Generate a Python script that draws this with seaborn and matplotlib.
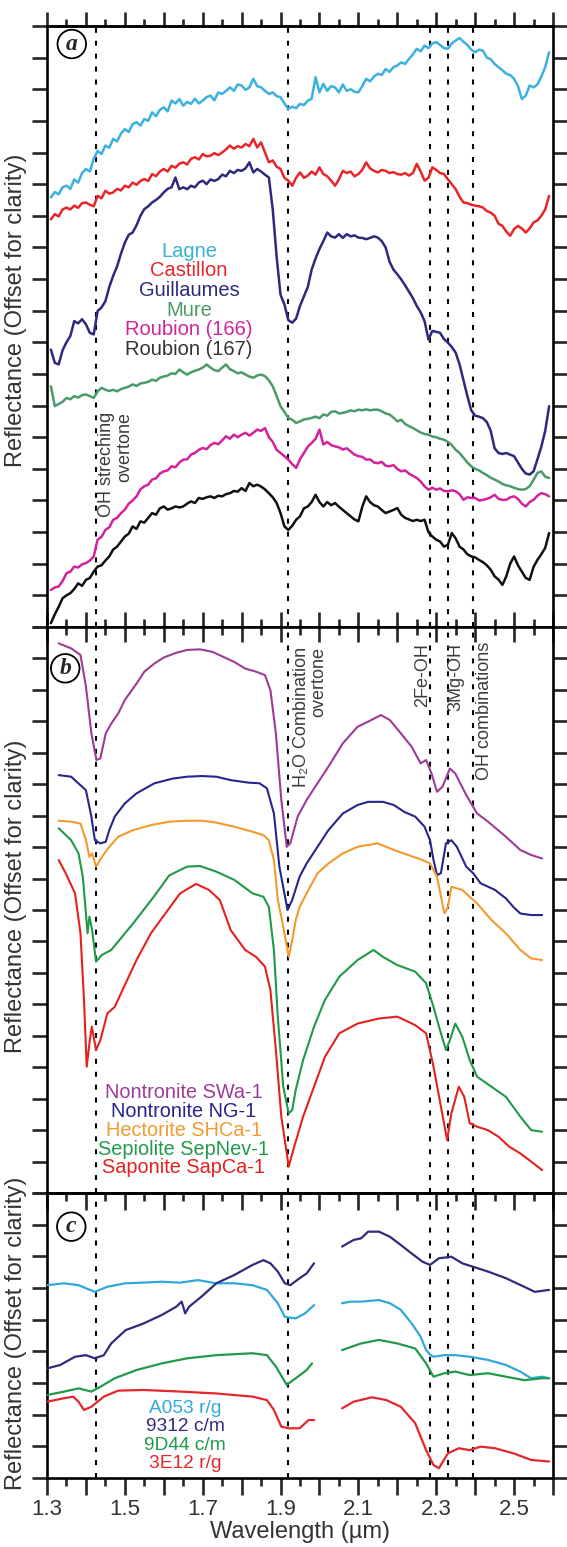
import numpy as np
import pandas as pd
import matplotlib
matplotlib.use("Agg")
import matplotlib.pyplot as plt
from matplotlib.ticker import FixedLocator, FixedFormatter
import seaborn as sns

# ---------------- panel a: field spectra (0.01 um grid, 1.31 - 2.59 um) ----------------
wl_a = np.round(np.arange(1.31, 2.595, 0.01), 2)

lagne = [
    13.58, 13.75, 13.68, 13.90, 13.95, 13.85, 14.15, 14.05, 14.35, 14.48,
    14.40, 14.80, 15.05, 14.95, 15.22, 15.15, 15.43, 15.35, 15.60, 15.74,
    15.65, 15.90, 15.96, 15.85, 16.06, 16.00, 16.27, 16.15, 16.35, 16.43,
    16.30, 16.64, 16.55, 16.69, 16.48, 16.60, 16.54, 16.70, 16.55, 16.64,
    16.75, 16.80, 16.65, 16.90, 16.85, 16.95, 17.06, 16.95, 17.15, 17.12,
    16.98, 17.06, 17.33, 17.10, 17.06, 16.95, 16.85, 16.90, 16.78, 16.75,
    16.55, 16.38, 16.45, 16.40, 16.54, 16.50, 16.64, 16.70, 17.38, 16.90,
    17.17, 16.95, 17.10, 17.06, 16.90, 17.15, 16.95, 17.00, 16.92, 16.90,
    17.10, 17.33, 17.25, 17.40, 17.49, 17.45, 17.64, 17.55, 17.70, 17.75,
    17.85, 17.80, 17.96, 18.10, 18.28, 18.20, 18.38, 18.30, 18.45, 18.49,
    18.40, 18.30, 18.28, 18.45, 18.54, 18.62, 18.50, 18.40, 18.25, 18.17,
    18.25, 18.22, 18.00, 17.95, 17.80, 17.70, 17.60, 17.49, 17.45, 17.33,
    17.10, 16.69, 16.80, 17.12, 17.06, 17.15, 17.40, 17.70, 18.17]

castillon = [
    12.89, 13.05, 12.98, 13.20, 13.26, 13.20, 13.32, 13.25, 13.40, 13.42,
    13.35, 13.30, 13.63, 13.55, 13.79, 13.70, 13.74, 13.85, 13.80, 13.95,
    13.90, 14.05, 13.98, 14.10, 14.16, 14.10, 14.32, 14.25, 14.40, 14.48,
    14.40, 14.58, 14.52, 14.65, 14.69, 14.62, 14.80, 14.85, 14.78, 14.95,
    14.88, 14.90, 14.98, 14.92, 15.00, 15.10, 15.22, 15.12, 15.20, 15.16,
    15.27, 15.20, 15.43, 15.16, 15.32, 15.00, 14.69, 14.75, 14.55, 14.48,
    14.20, 14.11, 13.95, 14.20, 14.37, 14.20, 14.27, 14.40, 14.30, 14.53,
    14.32, 14.25, 14.11, 13.95, 14.15, 14.42, 14.35, 14.40, 14.25, 14.32,
    14.45, 14.69, 14.50, 14.42, 14.37, 14.45, 14.42, 14.35, 14.38, 14.32,
    14.30, 14.35, 14.27, 14.35, 14.64, 14.40, 14.11, 14.20, 14.53, 14.45,
    14.35, 14.32, 14.15, 14.00, 13.84, 13.60, 13.42, 13.40, 13.35, 13.32,
    13.30, 13.26, 13.15, 13.10, 13.00, 12.75, 12.68, 12.50, 12.37, 12.58,
    12.68, 12.60, 12.47, 12.60, 12.79, 12.85, 13.00, 13.20, 13.63]

guillaumes = [
    8.77, 8.35, 8.30, 8.75, 9.00, 9.20, 9.67, 9.60, 9.73, 9.57,
    9.30, 9.25, 9.99, 10.10, 10.30, 10.75, 11.10, 11.40, 11.80, 12.15,
    12.40, 12.47, 12.70, 13.00, 13.21, 13.30, 13.42, 13.50, 13.60, 13.74,
    13.85, 13.90, 14.21, 13.84, 13.90, 13.84, 13.95, 13.90, 14.05, 14.11,
    14.00, 14.15, 14.10, 14.16, 14.30, 14.25, 14.42, 14.35, 14.45, 14.42,
    14.50, 14.69, 14.37, 14.48, 14.40, 14.30, 14.21, 13.20, 11.70, 10.50,
    10.20, 9.70, 9.62, 9.75, 10.15, 10.45, 10.75, 11.30, 11.65, 11.95,
    12.20, 12.47, 12.35, 12.31, 12.42, 12.30, 12.42, 12.35, 12.38, 12.31,
    12.30, 12.26, 12.30, 12.35, 12.31, 12.20, 12.00, 11.55, 11.30, 11.15,
    10.99, 10.80, 10.60, 10.40, 10.15, 9.95, 9.67, 9.09, 9.36, 9.33,
    9.30, 9.10, 8.99, 8.85, 8.67, 8.30, 7.80, 7.30, 6.85, 6.68,
    6.65, 6.60, 6.48, 6.20, 5.65, 5.50, 5.47, 5.50, 5.45, 5.40,
    5.20, 5.00, 4.85, 4.82, 4.92, 5.30, 5.70, 6.20, 6.98]

mure = [
    7.61, 6.98, 7.05, 7.12, 7.24, 7.20, 7.30, 7.25, 7.33, 7.35,
    7.30, 7.24, 7.45, 7.56, 7.50, 7.46, 7.50, 7.45, 7.52, 7.56,
    7.60, 7.67, 7.62, 7.70, 7.72, 7.75, 7.82, 7.78, 7.88, 7.92,
    7.95, 8.02, 8.00, 8.14, 8.05, 7.98, 8.05, 8.10, 8.14, 8.20,
    8.30, 8.20, 8.12, 8.09, 8.20, 8.30, 8.15, 8.09, 8.02, 8.05,
    7.98, 7.92, 7.88, 7.95, 7.98, 7.93, 7.80, 7.61, 7.30, 6.98,
    6.80, 6.61, 6.55, 6.45, 6.50, 6.56, 6.58, 6.61, 6.65, 6.60,
    6.72, 6.68, 6.80, 6.82, 6.75, 6.77, 6.80, 6.85, 6.82, 6.87,
    6.85, 6.88, 6.85, 6.87, 6.87, 6.82, 6.75, 6.72, 6.62, 6.50,
    6.55, 6.42, 6.35, 6.29, 6.22, 6.15, 6.10, 6.08, 6.02, 6.00,
    5.95, 5.92, 5.85, 5.75, 5.60, 5.50, 5.35, 5.20, 5.08, 5.00,
    4.95, 4.87, 4.80, 4.72, 4.66, 4.60, 4.52, 4.48, 4.45, 4.40,
    4.36, 4.34, 4.36, 4.45, 4.65, 4.87, 4.92, 4.75, 4.71]

roubion_166 = [
    1.17, 1.25, 1.28, 1.45, 1.70, 1.75, 1.91, 1.88, 1.98, 2.02,
    2.10, 2.23, 2.76, 2.85, 3.07, 3.15, 3.39, 3.45, 3.60, 3.71,
    3.90, 4.00, 4.13, 4.35, 4.45, 4.50, 4.66, 4.70, 4.85, 4.92,
    4.95, 5.08, 5.05, 5.20, 5.29, 5.30, 5.45, 5.50, 5.60, 5.66,
    5.62, 5.75, 5.82, 5.78, 5.90, 6.03, 5.95, 6.08, 6.00, 6.08,
    6.14, 6.05, 6.14, 6.24, 6.20, 6.29, 6.00, 5.85, 5.60, 5.50,
    5.40, 5.29, 5.15, 5.03, 5.30, 5.50, 5.70, 5.82, 5.95, 6.24,
    5.77, 5.85, 5.75, 5.71, 5.68, 5.61, 5.65, 5.55, 5.45, 5.40,
    5.38, 5.29, 5.30, 5.20, 5.18, 5.22, 5.10, 5.08, 5.12, 5.00,
    4.92, 4.95, 4.85, 4.78, 4.71, 4.60, 4.45, 4.34, 4.40, 4.34,
    4.38, 4.30, 4.29, 4.32, 4.29, 4.20, 4.02, 4.10, 4.08, 4.08,
    4.00, 4.02, 4.05, 4.10, 4.18, 4.05, 4.02, 4.02, 4.10, 4.13,
    4.05, 3.90, 3.81, 3.95, 4.02, 4.15, 4.23, 4.20, 4.13]

roubion_167 = [
    0.12, 0.40, 0.64, 0.91, 1.00, 1.07, 1.20, 1.38, 1.30, 1.49,
    1.55, 1.75, 1.91, 1.95, 2.10, 2.23, 2.45, 2.54, 2.70, 2.86,
    2.95, 3.18, 3.10, 3.34, 3.30, 3.45, 3.60, 3.55, 3.75, 3.81,
    3.71, 3.75, 3.81, 3.78, 3.81, 3.90, 3.97, 3.92, 4.08, 4.05,
    4.10, 4.13, 4.08, 4.15, 4.13, 4.20, 4.23, 4.30, 4.28, 4.39,
    4.30, 4.55, 4.45, 4.50, 4.44, 4.35, 4.23, 4.10, 3.92, 3.60,
    3.18, 3.07, 3.20, 3.39, 3.50, 3.75, 3.81, 3.95, 4.18, 3.95,
    3.81, 3.95, 3.85, 3.92, 3.80, 3.70, 3.60, 3.50, 3.40, 3.34,
    3.80, 4.13, 3.95, 3.85, 3.81, 3.70, 3.60, 3.65, 3.70, 3.76,
    3.55, 3.45, 3.40, 3.35, 3.39, 3.35, 3.39, 3.00, 2.86, 2.76,
    2.70, 2.54, 2.60, 2.97, 2.80, 2.54, 2.45, 2.30, 2.23, 2.20,
    2.12, 2.05, 1.95, 1.81, 1.60, 1.50, 1.33, 1.60, 2.00, 2.23,
    1.95, 1.75, 1.55, 1.49, 1.90, 2.12, 2.30, 2.50, 2.97]

# ---------------- panel b: library spectra ----------------
swa_wl = [1.330, 1.362, 1.386, 1.400, 1.414, 1.427, 1.437, 1.451, 1.465, 1.483,
          1.500, 1.530, 1.550, 1.576, 1.600, 1.632, 1.660, 1.693, 1.725, 1.753,
          1.781, 1.809, 1.837, 1.860, 1.874, 1.888, 1.902, 1.916, 1.925, 1.944,
          1.967, 1.995, 2.023, 2.060, 2.098, 2.125, 2.158, 2.181, 2.209, 2.237,
          2.260, 2.274, 2.288, 2.302, 2.316, 2.335, 2.349, 2.377, 2.405, 2.433,
          2.479, 2.516, 2.544, 2.572]
swa_r = [17.48, 17.32, 17.11, 16.11, 14.62, 13.77, 13.82, 14.62, 14.93, 15.25,
         15.68, 16.20, 16.58, 16.84, 17.03, 17.18, 17.27, 17.29, 17.21, 17.05,
         16.89, 16.68, 16.58, 16.47, 15.99, 14.62, 12.50, 11.01, 11.12, 11.97,
         12.50, 13.03, 13.56, 14.30, 14.83, 14.99, 15.20, 15.04, 14.62, 14.19,
         13.66, 13.77, 13.34, 12.76, 12.92, 13.50, 13.34, 12.66, 12.07, 11.81,
         11.33, 10.91, 10.75, 10.64]

ng1_wl = [1.330, 1.362, 1.400, 1.414, 1.423, 1.437, 1.451, 1.460, 1.474, 1.500,
          1.530, 1.576, 1.623, 1.660, 1.697, 1.735, 1.772, 1.818, 1.846, 1.865,
          1.883, 1.897, 1.918, 1.930, 1.949, 1.967, 1.995, 2.023, 2.060, 2.098,
          2.125, 2.163, 2.191, 2.218, 2.246, 2.270, 2.284, 2.293, 2.302, 2.312,
          2.325, 2.339, 2.353, 2.377, 2.395, 2.414, 2.451, 2.479, 2.498, 2.516,
          2.544, 2.572]
ng1_r = [13.29, 13.24, 12.81, 11.97, 11.22, 11.12, 11.17, 11.54, 11.97, 12.39,
         12.71, 13.03, 13.18, 13.24, 13.26, 13.24, 13.13, 13.05, 13.03, 12.87,
         12.07, 10.38, 9.00, 9.32, 10.06, 10.48, 11.01, 11.54, 12.07, 12.34,
         12.44, 12.44, 12.34, 12.12, 11.97, 11.65, 11.22, 10.59, 10.11, 10.17,
         11.12, 11.22, 11.01, 10.38, 10.17, 9.85, 9.64, 9.37, 9.10, 8.89,
         8.84, 8.84]

shca_wl = [1.330, 1.362, 1.386, 1.400, 1.409, 1.416, 1.426, 1.441, 1.460, 1.483,
           1.521, 1.567, 1.614, 1.660, 1.697, 1.735, 1.781, 1.828, 1.856, 1.870,
           1.883, 1.893, 1.907, 1.921, 1.930, 1.939, 1.949, 1.967, 1.995, 2.023,
           2.060, 2.098, 2.149, 2.191, 2.228, 2.265, 2.284, 2.302, 2.321, 2.330,
           2.339, 2.367, 2.386, 2.405, 2.442, 2.479, 2.516, 2.544, 2.572]
shca_r = [11.84, 11.81, 11.75, 11.22, 10.69, 10.80, 10.38, 10.69, 11.01, 11.33,
          11.54, 11.70, 11.81, 11.84, 11.84, 11.78, 11.65, 11.49, 11.38, 11.22,
          10.59, 9.32, 8.47, 7.51, 8.04, 8.68, 9.10, 9.53, 10.17, 10.48,
          10.80, 11.01, 11.12, 10.91, 10.75, 10.59, 10.48, 10.06, 8.89, 9.10,
          9.74, 9.64, 9.42, 9.21, 8.68, 8.26, 7.73, 7.46, 7.41]

sep_wl = [1.330, 1.362, 1.381, 1.392, 1.400, 1.404, 1.409, 1.416, 1.426, 1.441,
          1.465, 1.493, 1.521, 1.548, 1.576, 1.614, 1.660, 1.693, 1.735, 1.781,
          1.828, 1.856, 1.870, 1.883, 1.893, 1.907, 1.921, 1.930, 1.939, 1.958,
          1.986, 2.014, 2.051, 2.098, 2.139, 2.163, 2.200, 2.246, 2.274, 2.293,
          2.312, 2.325, 2.335, 2.349, 2.367, 2.386, 2.405, 2.442, 2.479, 2.516,
          2.544, 2.572]
sep_r = [11.60, 11.22, 10.80, 10.06, 8.89, 8.26, 8.79, 8.36, 7.36, 7.57,
         7.73, 8.15, 8.57, 9.00, 9.45, 10.10, 10.38, 10.40, 10.22, 9.96,
         9.53, 9.42, 9.10, 7.73, 5.60, 3.38, 2.53, 2.64, 3.28, 4.23,
         5.29, 6.14, 6.88, 7.41, 7.73, 7.51, 7.25, 7.04, 6.67, 5.92,
         5.08, 4.55, 4.86, 5.39, 4.97, 4.23, 3.70, 3.38, 3.06, 2.43,
         2.00, 1.95]

sap_wl = [1.330, 1.348, 1.372, 1.386, 1.395, 1.402, 1.409, 1.415, 1.426, 1.437,
          1.455, 1.474, 1.502, 1.530, 1.567, 1.604, 1.642, 1.683, 1.716, 1.744,
          1.772, 1.809, 1.837, 1.860, 1.874, 1.888, 1.902, 1.921, 1.935, 1.958,
          1.986, 2.014, 2.051, 2.098, 2.153, 2.200, 2.246, 2.274, 2.293, 2.312,
          2.328, 2.339, 2.358, 2.372, 2.386, 2.405, 2.433, 2.460, 2.488, 2.516,
          2.544, 2.572]
sap_r = [10.59, 10.17, 9.53, 8.26, 6.14, 4.02, 4.76, 5.29, 4.55, 4.86,
         5.71, 5.92, 6.67, 7.41, 8.26, 8.89, 9.53, 9.83, 9.64, 9.32,
         8.36, 7.73, 7.51, 7.20, 6.45, 4.55, 2.43, 0.84, 1.47, 2.43,
         3.38, 4.33, 5.08, 5.39, 5.55, 5.61, 5.34, 5.08, 4.02, 2.75,
         1.69, 2.54, 3.38, 3.06, 2.22, 2.11, 2.00, 1.79, 1.47, 1.26,
         1.00, 0.73]

# ---------------- panel c: CRISM spectra (gap around 2.0 um) ----------------
a053_wl1 = [1.300, 1.344, 1.381, 1.423, 1.455, 1.502, 1.548, 1.595, 1.642, 1.688,
            1.735, 1.781, 1.828, 1.865, 1.893, 1.911, 1.939, 1.963, 1.986]
a053_r1 = [6.09, 6.15, 6.09, 5.88, 6.04, 6.15, 6.17, 6.20, 6.17, 6.25,
           6.15, 6.15, 6.09, 5.94, 5.52, 5.09, 5.04, 5.20, 5.46]
a053_wl2 = [2.058, 2.079, 2.107, 2.153, 2.181, 2.209, 2.237, 2.260, 2.274, 2.284,
            2.293, 2.321, 2.349, 2.386, 2.433, 2.479, 2.516, 2.544, 2.572, 2.590]
a053_r2 = [5.52, 5.57, 5.57, 5.62, 5.52, 5.31, 4.88, 4.46, 4.04, 3.90,
           3.83, 3.88, 3.88, 3.83, 3.73, 3.57, 3.36, 3.15, 3.20, 3.15]

s9312_wl1 = [1.300, 1.334, 1.372, 1.400, 1.423, 1.446, 1.465, 1.502, 1.548, 1.595,
             1.632, 1.646, 1.655, 1.665, 1.697, 1.735, 1.781, 1.828, 1.856, 1.874,
             1.893, 1.911, 1.925, 1.949, 1.967, 1.986]
s9312_r1 = [3.46, 3.57, 3.83, 3.88, 3.78, 3.88, 4.25, 4.67, 4.88, 5.15,
            5.41, 5.57, 5.20, 5.41, 5.73, 6.15, 6.41, 6.73, 6.88, 6.78,
            6.52, 6.15, 6.09, 6.31, 6.46, 6.78]
s9312_wl2 = [2.058, 2.088, 2.107, 2.125, 2.153, 2.181, 2.209, 2.237, 2.265, 2.284,
             2.307, 2.339, 2.367, 2.395, 2.433, 2.479, 2.526, 2.553, 2.590]
s9312_r2 = [7.31, 7.52, 7.57, 7.78, 7.78, 7.62, 7.36, 7.09, 6.83, 6.73,
            6.94, 6.99, 6.78, 6.67, 6.52, 6.31, 6.04, 5.88, 5.94]

s9d44_wl1 = [1.300, 1.344, 1.381, 1.414, 1.437, 1.474, 1.530, 1.595, 1.660, 1.735,
             1.828, 1.865, 1.888, 1.916, 1.939, 1.967, 1.981]
s9d44_r1 = [2.62, 2.73, 2.83, 2.73, 2.88, 3.15, 3.41, 3.62, 3.78, 3.88,
            3.94, 3.88, 3.52, 2.94, 3.15, 3.41, 3.62]
s9d44_wl2 = [2.058, 2.107, 2.153, 2.200, 2.246, 2.274, 2.293, 2.321, 2.349, 2.386,
             2.433, 2.479, 2.526, 2.572, 2.590]
s9d44_r2 = [4.04, 4.25, 4.36, 4.25, 4.09, 3.62, 3.20, 3.31, 3.36, 3.25,
            3.31, 3.20, 3.09, 3.15, 3.15]

s3e12_wl1 = [1.300, 1.344, 1.367, 1.381, 1.395, 1.414, 1.446, 1.483, 1.548, 1.642,
             1.735, 1.828, 1.865, 1.883, 1.902, 1.921, 1.949, 1.972, 1.986]
s3e12_r1 = [2.41, 2.52, 2.57, 2.41, 2.15, 2.25, 2.57, 2.76, 2.78, 2.73,
            2.67, 2.57, 2.46, 2.15, 1.62, 1.57, 1.57, 1.83, 1.83]
s3e12_wl2 = [2.058, 2.088, 2.135, 2.172, 2.209, 2.246, 2.274, 2.293, 2.307, 2.330,
             2.358, 2.386, 2.414, 2.451, 2.498, 2.544, 2.590]
s3e12_r2 = [2.20, 2.41, 2.55, 2.46, 2.25, 1.73, 0.88, 0.41, 0.31, 0.78,
            0.94, 0.88, 0.99, 0.94, 0.78, 0.57, 0.52]

# Absorption features marked by dashed lines (um)
features = [1.425, 1.92, 2.285, 2.33, 2.395]

NAMES_A = ["Lagne", "Castillon", "Guillaumes", "Mure", "Roubion (166)", "Roubion (167)"]
NAMES_B = ["Nontronite SWa-1", "Nontronite NG-1", "Hectorite SHCa-1",
           "Sepiolite SepNev-1", "Saponite SapCa-1"]
NAMES_C = ["A053 r/g", "9312 c/m", "9D44 c/m", "3E12 r/g"]

COLORS_A = ["#3ab1de", "#e8252b", "#2d2a7d", "#4b9a69", "#d2239d", "#111111"]
TEXT_A = ["#38b3cf", "#e8252b", "#2d2a7d", "#4b9a69", "#d2239d", "#333333"]
COLORS_B = ["#9c3c97", "#25258c", "#f29a2e", "#20994a", "#e4211f"]
COLORS_C = ["#2fa8da", "#302c7b", "#22994b", "#e3272b"]

TEXT = "#333333"
LW_AX = 1.9


# Build a long table: one row per point
def long_frame(curves):
    frames = [pd.DataFrame({"wl": wl, "refl": r, "sample": s, "part": p})
              for s, p, wl, r in curves]
    return pd.concat(frames, ignore_index=True)


def draw_curves(ax, df, names, colors, lw):
    sns.lineplot(data=df, x="wl", y="refl", hue="sample", units="part",
                 estimator=None, sort=False, hue_order=names,
                 palette=dict(zip(names, colors)), legend=False,
                 linewidth=lw, ax=ax, zorder=3)
    for w in features:
        ax.axvline(w, color="black", lw=1.5, ls=(0, (2.4, 3.8)), zorder=2)


MAJOR = np.round(np.arange(1.3, 2.65, 0.1), 2)
MINOR = np.round(np.arange(1.35, 2.6, 0.1), 2)
MAJOR_LABELS = ["1.3", "", "1.5", "", "1.7", "", "1.9", "", "2.1", "", "2.3", "", "2.5", ""]


def set_x_ticks(axis):
    axis.set_major_locator(FixedLocator(MAJOR))
    axis.set_minor_locator(FixedLocator(MINOR))


def base_axes(ax, ymax, label_y):
    ax.set_xlim(1.3, 2.6)
    ax.set_ylim(0, ymax)
    ax.set_yticks(np.arange(0, ymax + 1))
    ax.tick_params(axis="y", which="major", left=True, right=True, direction="out",
                   length=11, width=LW_AX, labelleft=False, labelright=False)
    set_x_ticks(ax.xaxis)
    for s in ax.spines.values():
        s.set_linewidth(LW_AX)
        s.set_color("black")
    ax.set_xlabel("")
    ax.set_ylabel("Reflectance (Offset for clarity)", fontsize=17, color=TEXT)
    ax.yaxis.set_label_coords(-0.039, label_y)


def panel_letter(ax, letter, x, y):
    ax.text(x, y, letter, transform=ax.transAxes, ha="center", va="center",
            fontsize=17, fontstyle="italic", fontweight="bold",
            family=["Liberation Serif", "DejaVu Serif"], zorder=6,
            bbox=dict(boxstyle="circle,pad=0.16", fc="white", ec="black", lw=1.3))


def legend_lines(ax, names, colors, x, ys, size):
    for name, c, y in zip(names, colors, ys):
        ax.text(x, y, name, color=c, fontsize=size, ha="center", va="center", zorder=5)


def side_note(ax, text, x, y):
    ax.text(x, y, text, rotation=90, ha="center", va="top", multialignment="right",
            fontsize=13, color="#3c3c3c", linespacing=1.05, zorder=5)


def main():
    sns.set_style("ticks")
    plt.rcParams["font.family"] = ["Liberation Sans", "DejaVu Sans"]
    plt.rcParams["axes.linewidth"] = LW_AX

    fig = plt.figure(figsize=(5.67, 15.47), dpi=100)
    ax_a = fig.add_axes([0.0829, 0.5947, 0.8924, 0.3885])
    ax_b = fig.add_axes([0.0829, 0.2288, 0.8924, 0.3659])
    ax_c = fig.add_axes([0.0829, 0.0446, 0.8924, 0.1842])

    # Panel a
    vals_a = [lagne, castillon, guillaumes, mure, roubion_166, roubion_167]
    df_a = long_frame([(n, n, wl_a, v) for n, v in zip(NAMES_A, vals_a)])
    draw_curves(ax_a, df_a, NAMES_A, COLORS_A, 1.8)
    base_axes(ax_a, 19, 0.527)
    ax_a.tick_params(axis="x", which="major", bottom=True, top=False, direction="in",
                     length=11, width=LW_AX, labelbottom=False)
    ax_a.tick_params(axis="x", which="minor", bottom=True, top=False, direction="in",
                     length=5.5, width=LW_AX)
    top_a = ax_a.secondary_xaxis("top")
    set_x_ticks(top_a.xaxis)
    top_a.tick_params(axis="x", which="major", direction="out", length=10,
                      width=LW_AX, labeltop=False)
    top_a.tick_params(axis="x", which="minor", direction="out", length=5, width=LW_AX)
    legend_lines(ax_a, NAMES_A, TEXT_A, 1.665,
                 [11.88, 11.26, 10.64, 10.02, 9.40, 8.78], 14.5)
    side_note(ax_a, "OH streching\novertone", 1.476, 6.81)
    panel_letter(ax_a, "a", 0.049, 0.970)

    # Panel b
    df_b = long_frame([
        (NAMES_B[0], NAMES_B[0], swa_wl, swa_r),
        (NAMES_B[1], NAMES_B[1], ng1_wl, ng1_r),
        (NAMES_B[2], NAMES_B[2], shca_wl, shca_r),
        (NAMES_B[3], NAMES_B[3], sep_wl, sep_r),
        (NAMES_B[4], NAMES_B[4], sap_wl, sap_r),
    ])
    draw_curves(ax_b, df_b, NAMES_B, COLORS_B, 1.5)
    base_axes(ax_b, 18, 0.525)
    ax_b.tick_params(axis="x", which="major", bottom=False, top=True, direction="in",
                     length=11, width=LW_AX, labelbottom=False)
    ax_b.tick_params(axis="x", which="minor", bottom=False, top=True, direction="in",
                     length=5.5, width=LW_AX)
    legend_lines(ax_b, NAMES_B, COLORS_B, 1.651, [3.20, 2.60, 2.00, 1.40, 0.80], 14.3)
    side_note(ax_b, "H\u2082O Combination\novertone", 1.976, 17.37)
    side_note(ax_b, "2Fe-OH", 2.264, 17.48)
    side_note(ax_b, "3Mg-OH", 2.350, 17.48)
    side_note(ax_b, "OH combinations", 2.423, 17.53)
    panel_letter(ax_b, "b", 0.036, 0.927)

    # Panel c
    df_c = long_frame([
        (NAMES_C[0], "a1", a053_wl1, a053_r1), (NAMES_C[0], "a2", a053_wl2, a053_r2),
        (NAMES_C[1], "b1", s9312_wl1, s9312_r1), (NAMES_C[1], "b2", s9312_wl2, s9312_r2),
        (NAMES_C[2], "c1", s9d44_wl1, s9d44_r1), (NAMES_C[2], "c2", s9d44_wl2, s9d44_r2),
        (NAMES_C[3], "d1", s3e12_wl1, s3e12_r1), (NAMES_C[3], "d2", s3e12_wl2, s3e12_r2),
    ])
    draw_curves(ax_c, df_c, NAMES_C, COLORS_C, 1.6)
    base_axes(ax_c, 9, 0.508)
    ax_c.xaxis.set_major_formatter(FixedFormatter(MAJOR_LABELS))
    ax_c.tick_params(axis="x", which="major", bottom=True, top=False, direction="out",
                     length=12, width=LW_AX, labelbottom=True, labelsize=16,
                     labelcolor=TEXT, pad=3)
    ax_c.tick_params(axis="x", which="minor", bottom=True, top=False, direction="out",
                     length=6, width=LW_AX)
    top_c = ax_c.secondary_xaxis("top")
    set_x_ticks(top_c.xaxis)
    top_c.tick_params(axis="x", which="major", direction="in", length=12,
                      width=LW_AX, labeltop=False)
    top_c.tick_params(axis="x", which="minor", direction="in", length=6, width=LW_AX)
    ax_c.set_xlabel("Wavelength (\u00b5m)", fontsize=17, color=TEXT, labelpad=1)
    legend_lines(ax_c, NAMES_C, COLORS_C, 1.655, [2.20, 1.62, 1.04, 0.46], 13.8)
    panel_letter(ax_c, "c", 0.048, 0.882)

    fig.savefig("out.png", dpi=100)
    plt.close(fig)


if __name__ == "__main__":
    main()
